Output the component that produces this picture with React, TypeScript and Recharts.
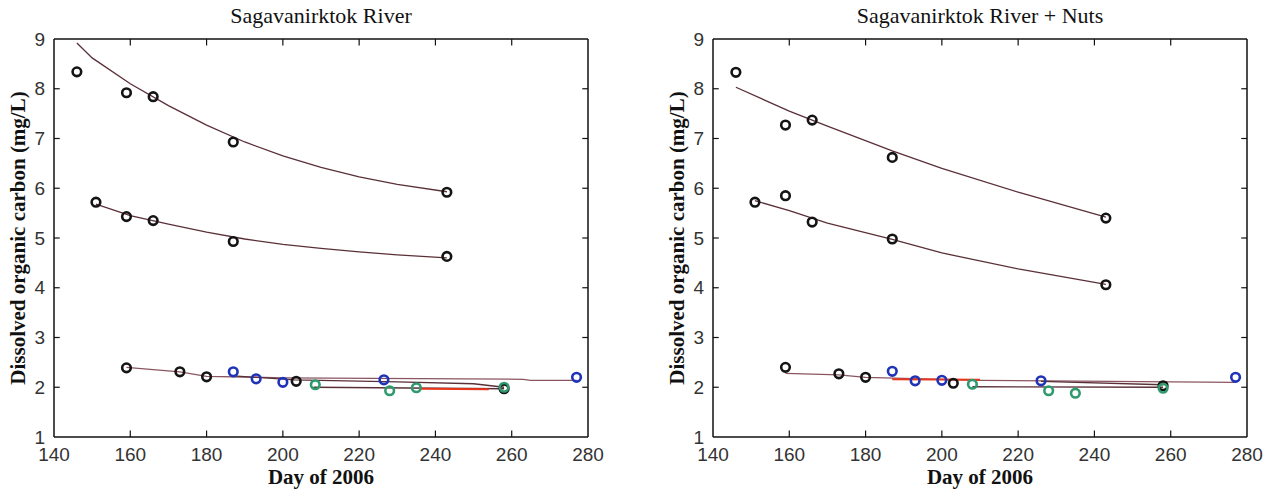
import React from "react";
import { ComposedChart, Scatter, XAxis, YAxis, ReferenceLine } from "recharts";

const X_TICKS = [140, 160, 180, 200, 220, 240, 260, 280];
const Y_TICKS = [1, 2, 3, 4, 5, 6, 7, 8, 9];

// Left panel: Sagavanirktok River
const leftUpperPts = [
  { x: 146, y: 8.34 }, { x: 159, y: 7.92 }, { x: 166, y: 7.84 }, { x: 187, y: 6.93 }, { x: 243, y: 5.92 },
];
const leftUpperFit = [
  { x: 146, y: 8.92 }, { x: 150, y: 8.62 }, { x: 160, y: 8.1 }, { x: 170, y: 7.66 }, { x: 180, y: 7.27 },
  { x: 190, y: 6.93 }, { x: 200, y: 6.65 }, { x: 210, y: 6.42 }, { x: 220, y: 6.23 }, { x: 230, y: 6.08 }, { x: 243, y: 5.93 },
];
const leftMidPts = [
  { x: 151, y: 5.72 }, { x: 159, y: 5.43 }, { x: 166, y: 5.35 }, { x: 187, y: 4.93 }, { x: 243, y: 4.63 },
];
const leftMidFit = [
  { x: 151, y: 5.68 }, { x: 160, y: 5.45 }, { x: 170, y: 5.28 }, { x: 180, y: 5.12 }, { x: 190, y: 4.98 },
  { x: 200, y: 4.87 }, { x: 210, y: 4.79 }, { x: 220, y: 4.72 }, { x: 230, y: 4.66 }, { x: 243, y: 4.6 },
];
const leftLowBlack = [
  { x: 159, y: 2.39 }, { x: 173, y: 2.31 }, { x: 180, y: 2.21 }, { x: 203.5, y: 2.12 }, { x: 258, y: 1.97 },
];
const leftLowBlue = [
  { x: 187, y: 2.31 }, { x: 193, y: 2.17 }, { x: 200, y: 2.1 }, { x: 226.5, y: 2.15 }, { x: 277, y: 2.2 },
];
const leftLowGreen = [
  { x: 208.5, y: 2.05 }, { x: 228, y: 1.93 }, { x: 235, y: 1.99 }, { x: 258, y: 2.0 },
];
const leftLowFitA = [
  { x: 159, y: 2.4 }, { x: 173, y: 2.31 }, { x: 180, y: 2.22 }, { x: 200, y: 2.19 }, { x: 263, y: 2.16 }, { x: 265, y: 2.14 }, { x: 277, y: 2.14 },
];
const leftLowFitB = [
  { x: 187, y: 2.23 }, { x: 203, y: 2.15 }, { x: 230, y: 2.11 }, { x: 250, y: 2.07 }, { x: 258, y: 2.0 },
];
const leftLowFitC = [{ x: 208, y: 2.0 }, { x: 258, y: 1.97 }];
const leftLowFitRed = [{ x: 236, y: 1.97 }, { x: 254, y: 1.96 }];

// Right panel: Sagavanirktok River + Nuts
const rightUpperPts = [
  { x: 146, y: 8.33 }, { x: 159, y: 7.27 }, { x: 166, y: 7.37 }, { x: 187, y: 6.62 }, { x: 243, y: 5.4 },
];
const rightUpperFit = [
  { x: 146, y: 8.03 }, { x: 160, y: 7.55 }, { x: 170, y: 7.25 }, { x: 187, y: 6.75 }, { x: 200, y: 6.4 },
  { x: 220, y: 5.92 }, { x: 243, y: 5.42 },
];
const rightMidPts = [
  { x: 151, y: 5.72 }, { x: 159, y: 5.85 }, { x: 166, y: 5.32 }, { x: 187, y: 4.98 }, { x: 243, y: 4.06 },
];
const rightMidFit = [
  { x: 151, y: 5.75 }, { x: 160, y: 5.55 }, { x: 170, y: 5.3 }, { x: 187, y: 4.97 }, { x: 200, y: 4.7 },
  { x: 220, y: 4.38 }, { x: 243, y: 4.07 },
];
const rightLowBlack = [
  { x: 159, y: 2.4 }, { x: 173, y: 2.27 }, { x: 180, y: 2.2 }, { x: 203, y: 2.08 }, { x: 258, y: 2.03 },
];
const rightLowBlue = [
  { x: 187, y: 2.32 }, { x: 193, y: 2.13 }, { x: 200, y: 2.14 }, { x: 226, y: 2.13 }, { x: 277, y: 2.2 },
];
const rightLowGreen = [
  { x: 208, y: 2.06 }, { x: 228, y: 1.93 }, { x: 235, y: 1.88 }, { x: 258, y: 1.98 },
];
const rightLowFitA = [
  { x: 159, y: 2.28 }, { x: 173, y: 2.25 }, { x: 180, y: 2.2 }, { x: 210, y: 2.14 }, { x: 277, y: 2.1 },
];
const rightLowFitB = [{ x: 226, y: 2.12 }, { x: 258, y: 2.05 }];
const rightLowFitC = [{ x: 208, y: 2.01 }, { x: 258, y: 2.0 }];
const rightLowFitRed = [{ x: 187, y: 2.16 }, { x: 210, y: 2.15 }];

const BLACK = "#141414";
const BLUE = "#1f33b8";
const GREEN = "#2e9a6e";
const FIT = "#5a3038";
const RED = "#e8361c";

const TICK_FONT = { fontFamily: "Liberation Sans, Arial, sans-serif", fontSize: 19, fill: "#333" };
const SERIF = "Liberation Serif, Times New Roman, serif";

const circleShape = (color: string) => (props: any) => (
  <circle cx={props.cx} cy={props.cy} r={4.3} fill="none" stroke={color} strokeWidth={2.6} />
);
const noShape = () => null;

type Series = { x: number; y: number }[];

function Panel(props: {
  title: string;
  left: number;
  pts: { data: Series; color: string }[];
  fits: { data: Series; color: string; width?: number }[];
}) {
  const W = 620;
  const H = 497;
  const tickLen = 0.13;
  const xTickLen = 1.5;
  return (
    <div style={{ position: "absolute", left: props.left, top: 0, width: W, height: H }}>
      <ComposedChart width={W} height={H} margin={{ top: 39, right: 32, bottom: 22, left: 24 }}>
        <XAxis
          type="number"
          dataKey="x"
          domain={[140, 280]}
          ticks={X_TICKS}
          tickLine={false}
          axisLine={{ stroke: "#111", strokeWidth: 1.5 }}
          tick={TICK_FONT}
          tickMargin={5}
          height={38}
          allowDataOverflow
          interval={0}
        />
        <YAxis
          type="number"
          dataKey="y"
          domain={[1, 9]}
          ticks={Y_TICKS}
          tickLine={false}
          axisLine={{ stroke: "#111", strokeWidth: 1.5 }}
          tick={TICK_FONT}
          tickMargin={3}
          width={30}
          allowDataOverflow
          interval={0}
        />
        <ReferenceLine y={9} stroke="#111" strokeWidth={1.5} ifOverflow="visible" />
        <ReferenceLine x={280} stroke="#111" strokeWidth={1.5} ifOverflow="visible" />
        {X_TICKS.slice(1, -1).map((t) => (
          <ReferenceLine key={"xb" + t} segment={[{ x: t, y: 1 }, { x: t, y: 1 + tickLen }]} stroke="#111" strokeWidth={1.2} />
        ))}
        {X_TICKS.slice(1, -1).map((t) => (
          <ReferenceLine key={"xt" + t} segment={[{ x: t, y: 9 }, { x: t, y: 9 - tickLen }]} stroke="#111" strokeWidth={1.2} />
        ))}
        {Y_TICKS.slice(1, -1).map((t) => (
          <ReferenceLine key={"yl" + t} segment={[{ x: 140, y: t }, { x: 140 + xTickLen, y: t }]} stroke="#111" strokeWidth={1.2} />
        ))}
        {Y_TICKS.slice(1, -1).map((t) => (
          <ReferenceLine key={"yr" + t} segment={[{ x: 280, y: t }, { x: 280 - xTickLen, y: t }]} stroke="#111" strokeWidth={1.2} />
        ))}
        {props.fits.map((f, i) => (
          <Scatter
            key={"f" + i}
            data={f.data}
            line={{ stroke: f.color, strokeWidth: f.width ?? 1.3 }}
            lineType="joint"
            shape={noShape}
            isAnimationActive={false}
          />
        ))}
        {props.pts.map((p, i) => (
          <Scatter key={"p" + i} data={p.data} shape={circleShape(p.color)} isAnimationActive={false} />
        ))}
      </ComposedChart>
      <div
        style={{
          position: "absolute",
          left: 54,
          width: 534,
          top: 3,
          textAlign: "center",
          fontFamily: SERIF,
          fontSize: 22,
          color: "#111",
        }}
      >
        {props.title}
      </div>
      <div
        style={{
          position: "absolute",
          left: 54,
          width: 534,
          top: 465,
          textAlign: "center",
          fontFamily: SERIF,
          fontWeight: "bold",
          fontSize: 21,
          color: "#111",
        }}
      >
        Day of 2006
      </div>
      <div
        style={{
          position: "absolute",
          left: 18 - 200,
          top: 238 - 13,
          width: 400,
          height: 26,
          textAlign: "center",
          transform: "rotate(-90deg)",
          fontFamily: SERIF,
          fontWeight: "bold",
          fontSize: 21,
          color: "#111",
          lineHeight: "26px",
        }}
      >
        Dissolved organic carbon (mg/L)
      </div>
    </div>
  );
}

export default function App() {
  return (
    <div style={{ position: "absolute", left: 0, top: 0, width: 1267, height: 497, background: "#fff", overflow: "hidden" }}>
      <Panel
        title="Sagavanirktok River"
        left={0}
        pts={[
          { data: leftUpperPts, color: BLACK },
          { data: leftMidPts, color: BLACK },
          { data: leftLowBlack, color: BLACK },
          { data: leftLowGreen, color: GREEN },
          { data: leftLowBlue, color: BLUE },
        ]}
        fits={[
          { data: leftUpperFit, color: FIT },
          { data: leftMidFit, color: FIT },
          { data: leftLowFitA, color: "#8a5560" },
          { data: leftLowFitB, color: FIT },
          { data: leftLowFitC, color: FIT },
          { data: leftLowFitRed, color: RED, width: 2 },
        ]}
      />
      <Panel
        title="Sagavanirktok River + Nuts"
        left={659}
        pts={[
          { data: rightUpperPts, color: BLACK },
          { data: rightMidPts, color: BLACK },
          { data: rightLowBlack, color: BLACK },
          { data: rightLowGreen, color: GREEN },
          { data: rightLowBlue, color: BLUE },
        ]}
        fits={[
          { data: rightUpperFit, color: FIT },
          { data: rightMidFit, color: FIT },
          { data: rightLowFitA, color: "#8a5560" },
          { data: rightLowFitB, color: FIT },
          { data: rightLowFitC, color: FIT },
          { data: rightLowFitRed, color: RED, width: 2 },
        ]}
      />
    </div>
  );
}
